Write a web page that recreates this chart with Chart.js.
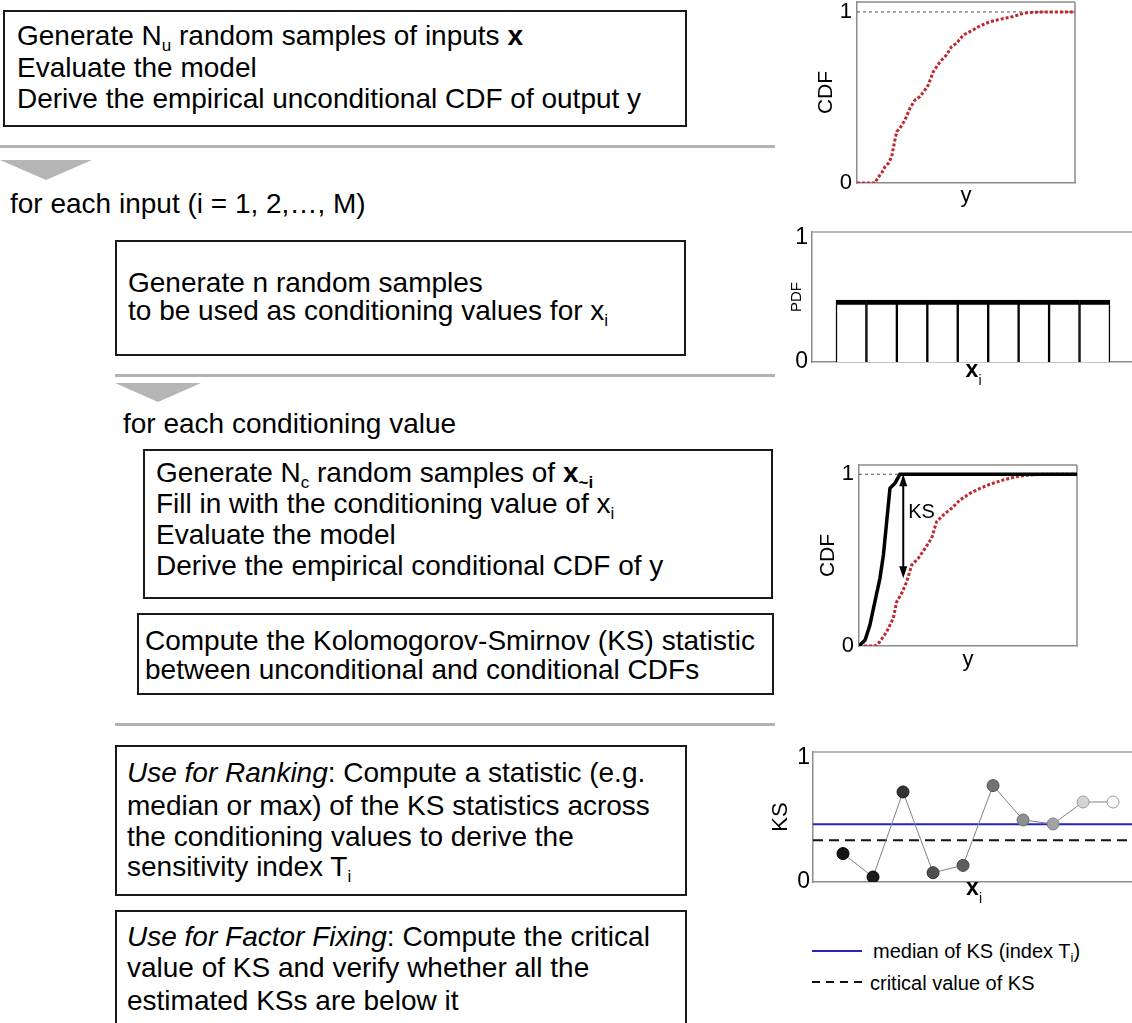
<!DOCTYPE html>
<html><head><meta charset="utf-8">
<title>PAWN workflow</title>
<script src="https://cdn.jsdelivr.net/npm/chart.js@4.4.1/dist/chart.umd.min.js"></script>
<style>
html,body{margin:0;padding:0;background:#fff}
body{width:1132px;height:1023px;position:relative;overflow:hidden;font-family:"Liberation Sans",Arial,Helvetica,sans-serif;color:#000}
.box{position:absolute;border:2px solid #1a1a1a;box-sizing:border-box}
.t{position:absolute;white-space:nowrap;font-size:28px;line-height:32px}
.t sub{font-size:17px;vertical-align:-6px;line-height:0}
.rule{position:absolute;height:3px;background:#b3b3b3}
.tri{position:absolute;width:0;height:0;border-style:solid;border-color:#b5b5b5 transparent transparent transparent}
.cv{position:absolute}
.lg{position:absolute;font-size:20px;line-height:24px;white-space:nowrap}
.lg sub{font-size:13px;vertical-align:-4px;line-height:0}
</style></head>
<body>
<!-- step 1 -->
<div class="box" style="left:3px;top:10px;width:684px;height:117px"></div>
<div class="t" style="left:17px;top:20px">Generate N<sub>u</sub> random samples of inputs <b>x</b></div>
<div class="t" style="left:17px;top:52px">Evaluate the model</div>
<div class="t" style="left:17px;top:83px">Derive the empirical unconditional CDF of output y</div>
<div class="rule" style="left:0;top:145px;width:775px"></div>
<div class="tri" style="left:0;top:160px;border-width:20px 46px 0 46px"></div>
<div class="t" style="left:10px;top:188px">for each input (i = 1, 2,…, M)</div>
<!-- step 2 -->
<div class="box" style="left:115px;top:240px;width:571px;height:116px"></div>
<div class="t" style="left:128px;top:267px">Generate n random samples</div>
<div class="t" style="left:128px;top:295px">to be used as conditioning values for x<sub>i</sub></div>
<div class="rule" style="left:115px;top:374px;width:660px"></div>
<div class="tri" style="left:115px;top:383px;border-width:19px 43px 0 43px"></div>
<div class="t" style="left:123px;top:408px">for each conditioning value</div>
<!-- step 3 -->
<div class="box" style="left:143px;top:449px;width:630px;height:150px"></div>
<div class="t" style="left:156px;top:457px">Generate N<sub>c</sub> random samples of <b>x</b><sub><b>~i</b></sub></div>
<div class="t" style="left:156px;top:488px">Fill in with the conditioning value of x<sub>i</sub></div>
<div class="t" style="left:156px;top:519px">Evaluate the model</div>
<div class="t" style="left:156px;top:550px">Derive the empirical conditional CDF of y</div>
<div class="box" style="left:137px;top:613px;width:637px;height:82px"></div>
<div class="t" style="left:145px;top:625px">Compute the Kolomogorov-Smirnov (KS) statistic</div>
<div class="t" style="left:145px;top:654px">between unconditional and conditional CDFs</div>
<div class="rule" style="left:115px;top:723px;width:660px"></div>
<!-- step 4 -->
<div class="box" style="left:115px;top:745px;width:572px;height:151px"></div>
<div class="t" style="left:127px;top:757px"><i>Use for Ranking</i>: Compute a statistic (e.g.</div>
<div class="t" style="left:127px;top:790px">median or max) of the KS statistics across</div>
<div class="t" style="left:127px;top:821px">the conditioning values to derive the</div>
<div class="t" style="left:127px;top:851px">sensitivity index T<sub>i</sub></div>
<div class="box" style="left:115px;top:910px;width:572px;height:140px"></div>
<div class="t" style="left:127px;top:921px"><i>Use for Factor Fixing</i>: Compute the critical</div>
<div class="t" style="left:127px;top:952px">value of KS and verify whether all the</div>
<div class="t" style="left:127px;top:985px">estimated KSs are below it</div>

<!-- charts -->
<canvas id="c1" class="cv" width="290" height="210" style="left:800px;top:0px"></canvas>
<canvas id="c2" class="cv" width="352" height="178" style="left:780px;top:222px"></canvas>
<canvas id="c3" class="cv" width="292" height="220" style="left:800px;top:455px"></canvas>
<canvas id="c4" class="cv" width="372" height="170" style="left:760px;top:741px"></canvas>

<!-- legend of panel 4 -->
<div style="position:absolute;left:812px;top:950px;width:50px;height:2px;background:#2525c0"></div>
<div class="lg" style="left:873px;top:939px">median of KS (index T<sub>i</sub>)</div>
<div style="position:absolute;left:812px;top:981px;width:50px;height:2px;background:repeating-linear-gradient(to right,#111 0 8px,transparent 8px 14px)"></div>
<div class="lg" style="left:870px;top:971px">critical value of KS</div>

<script>
const FONT = '"Liberation Sans", Arial, Helvetica, sans-serif';
const yTicks01 = [0, 1];

// ---- Panel 1: unconditional CDF of y ----
const uncondY   = [0, 0.083, 0.093, 0.113, 0.128, 0.144, 0.159, 0.174, 0.182, 0.197, 0.220, 0.243, 0.266, 0.289, 0.312, 0.327, 0.350, 0.381, 0.411, 0.434, 0.457, 0.488, 0.518, 0.564, 0.610, 0.656, 0.717, 0.763, 0.809, 0.870, 1.0];
const uncondCdf = [0, 0.000, 0.027, 0.057, 0.095, 0.115, 0.154, 0.251, 0.300, 0.320, 0.368, 0.437, 0.485, 0.505, 0.544, 0.573, 0.651, 0.709, 0.749, 0.797, 0.817, 0.865, 0.885, 0.918, 0.943, 0.957, 0.973, 0.992, 0.998, 1.0, 1.0];

// ---- Panel 2: PDF of x_i (uniform) ----
const pdfBinCentres = [0.5, 1.5, 2.5, 3.5, 4.5, 5.5, 6.5, 7.5, 8.5];
const pdfHeights    = [0.5, 0.5, 0.5, 0.5, 0.5, 0.5, 0.5, 0.5, 0.5];

// ---- Panel 3: conditional vs unconditional CDF ----
const condY     = [0, 0.028, 0.050, 0.073, 0.096, 0.112, 0.127, 0.142, 0.165, 0.188, 1.0];
const condCdf   = [0, 0.035, 0.122, 0.258, 0.394, 0.530, 0.724, 0.918, 0.948, 1.0, 1.0];
const uncondY3   = [0, 0.073, 0.096, 0.127, 0.157, 0.173, 0.196, 0.219, 0.242, 0.272, 0.303, 0.333, 0.356, 0.387, 0.425, 0.463, 0.509, 0.555, 0.601, 0.662, 0.723, 0.784, 0.845, 1.0];
const uncondCdf3 = [0, 0.000, 0.025, 0.083, 0.161, 0.258, 0.307, 0.375, 0.472, 0.511, 0.569, 0.627, 0.724, 0.763, 0.802, 0.850, 0.889, 0.918, 0.942, 0.967, 0.986, 0.996, 1.0, 1.0];
const ksArrowAt = 0.203, ksArrowTop = 1.0, ksArrowBottom = 0.394, ksLabelLevel = 0.778;

// ---- Panel 4: KS across conditioning values ----
const ksIndex  = [1, 2, 3, 4, 5, 6, 7, 8, 9, 10];
const ksValues = [0.229, 0.040, 0.726, 0.075, 0.134, 0.777, 0.500, 0.468, 0.645, 0.645];
const ksMedian = 0.466;
const ksCritical = 0.336;
const ksPointFill   = ['#141414', '#1c1c1c', '#333333', '#4f4f4f', '#5e5e5e', '#727272', '#8f8f8f', '#a3a3a3', '#d4d4d4', '#f7f7f7'];
const ksPointBorder = ['#000000', '#000000', '#1a1a1a', '#333333', '#444444', '#555555', '#6e6e6e', '#7d7d7d', '#999999', '#9a9a9a'];

const pts = (xs, ys) => xs.map((x, i) => ({x, y: ys[i]}));

function yAxis(max, width, title, titleSize, titlePad, tickPad, tickSize) {
  return {
    type: 'linear', min: 0, max,
    afterBuildTicks: s => { s.ticks = yTicks01.map(v => ({value: v})); },
    afterFit: s => { s.width = width; s.paddingTop = 0; s.paddingBottom = 0; },
    grid: {display: false, drawTicks: false},
    border: {display: true, color: '#8c8c8c', width: 1.5},
    ticks: {padding: tickPad, color: '#000', font: {family: FONT, size: tickSize}},
    title: {display: true, text: title, color: '#000', font: {family: FONT, size: titleSize}, padding: {top: titlePad, bottom: 0}}
  };
}
function xAxis(min, max, height, title, titlePadBottom) {
  return {
    type: 'linear', min, max, offset: false,
    afterFit: s => { s.height = height; s.paddingLeft = 0; s.paddingRight = 0; },
    grid: {display: false, drawTicks: false, offset: false},
    border: {display: true, color: '#8c8c8c', width: 1.5},
    ticks: {display: false},
    title: title ? {display: true, text: title, color: '#000', font: {family: FONT, size: 22}, padding: {top: 0, bottom: titlePadBottom}} : {display: false}
  };
}
function framePlugin(sides, color) {
  return {
    id: 'frame',
    beforeDatasetsDraw(chart) {
      const {ctx, chartArea: a} = chart;
      ctx.save(); ctx.strokeStyle = color; ctx.lineWidth = 1.5;
      ctx.beginPath();
      if (sides.includes('top')) { ctx.moveTo(a.left, a.top); ctx.lineTo(a.right, a.top); }
      if (sides.includes('right')) { ctx.moveTo(a.right, a.top); ctx.lineTo(a.right, a.bottom); }
      ctx.stroke(); ctx.restore();
    }
  };
}
function subLabelPlugin(main, sub, dy) {
  return {
    id: 'subLabel',
    afterDraw(chart) {
      const {ctx, chartArea: a} = chart;
      const cx = (a.left + a.right) / 2;
      ctx.save(); ctx.fillStyle = '#000'; ctx.textBaseline = 'middle'; ctx.textAlign = 'center';
      ctx.font = 'bold 23px ' + FONT; ctx.fillText(main, cx, a.bottom + dy);
      ctx.font = '14px ' + FONT; ctx.fillText(sub, cx + 8, a.bottom + dy + 10);
      ctx.restore();
    }
  };
}
const base = {responsive: false, animation: false, devicePixelRatio: 1, events: [],
  plugins: {legend: {display: false}, tooltip: {enabled: false}}};

// Panel 1
new Chart(document.getElementById('c1'), {
  type: 'line',
  data: {datasets: [
    {data: pts(uncondY, uncondCdf), borderColor: '#c1272d', borderWidth: 3, borderDash: [3, 2], pointRadius: 0, tension: 0, order: 0},
    {data: pts([0, 1], [1, 1]), borderColor: '#555', borderWidth: 1, borderDash: [3, 3], pointRadius: 0, order: 1}
  ]},
  options: {...base,
    layout: {autoPadding: false, padding: {top: 2, right: 15, bottom: 0, left: 0}},
    scales: {x: xAxis(0, 1, 27, 'y', 1), y: yAxis(1.058, 57, 'CDF', 21, 14, 5, 22)}},
  plugins: [framePlugin(['top', 'right'], '#8c8c8c')]
});

// Panel 2
new Chart(document.getElementById('c2'), {
  type: 'bar',
  data: {datasets: [
    {data: pts(pdfBinCentres, pdfHeights), backgroundColor: '#fff', borderColor: '#000',
     borderWidth: {top: 5, left: 1.5, right: 1.5, bottom: 0}, borderSkipped: false,
     barPercentage: 1, categoryPercentage: 1}
  ]},
  options: {...base,
    layout: {autoPadding: false, padding: {top: 10, right: 0, bottom: 0, left: 0}},
    scales: {x: xAxis(-0.788, 9.724, 38, null, 0), y: yAxis(1.048, 32, 'PDF', 15, 8, 4, 23)}},
  plugins: [framePlugin(['top'], '#a0a0a0'), subLabelPlugin('x', 'i', 9)]
});

// Panel 3
new Chart(document.getElementById('c3'), {
  type: 'line',
  data: {datasets: [
    {data: pts(condY, condCdf), borderColor: '#000', borderWidth: 3.5, pointRadius: 0, tension: 0, order: 0},
    {data: pts(uncondY3, uncondCdf3), borderColor: '#c1272d', borderWidth: 3, borderDash: [3, 2], pointRadius: 0, tension: 0, order: 1},
    {data: pts([0, 1], [1, 1]), borderColor: '#555', borderWidth: 1, borderDash: [3, 3], pointRadius: 0, order: 2}
  ]},
  options: {...base,
    layout: {autoPadding: false, padding: {top: 10, right: 15, bottom: 0, left: 0}},
    scales: {x: xAxis(0, 1, 29, 'y', 2), y: yAxis(1.054, 59, 'CDF', 21, 16, 5, 22)}},
  plugins: [framePlugin(['top', 'right'], '#8c8c8c'), {
    id: 'ksArrow',
    afterDatasetsDraw(chart) {
      const {ctx, scales: {x, y}} = chart;
      const px = x.getPixelForValue(ksArrowAt);
      const y1 = y.getPixelForValue(ksArrowTop), y2 = y.getPixelForValue(ksArrowBottom);
      ctx.save(); ctx.strokeStyle = '#000'; ctx.fillStyle = '#000'; ctx.lineWidth = 2;
      ctx.beginPath(); ctx.moveTo(px, y1 + 6); ctx.lineTo(px, y2 - 6); ctx.stroke();
      ctx.beginPath(); ctx.moveTo(px, y1); ctx.lineTo(px - 4, y1 + 12); ctx.lineTo(px + 4, y1 + 12); ctx.closePath(); ctx.fill();
      ctx.beginPath(); ctx.moveTo(px, y2); ctx.lineTo(px - 4, y2 - 12); ctx.lineTo(px + 4, y2 - 12); ctx.closePath(); ctx.fill();
      ctx.font = '20px ' + FONT; ctx.textBaseline = 'middle'; ctx.textAlign = 'left';
      ctx.fillText('KS', px + 5, y.getPixelForValue(ksLabelLevel));
      ctx.restore();
    }
  }]
});

// Panel 4
new Chart(document.getElementById('c4'), {
  type: 'line',
  data: {datasets: [
    {data: pts(ksIndex, ksValues), borderColor: '#808080', borderWidth: 1, tension: 0,
     pointRadius: 6, pointBackgroundColor: ksPointFill, pointBorderColor: ksPointBorder, pointBorderWidth: 1, order: 0},
    {data: pts([0, 10.63], [ksMedian, ksMedian]), borderColor: '#2525c0', borderWidth: 2, pointRadius: 0, order: 1},
    {data: pts([0, 10.63], [ksCritical, ksCritical]), borderColor: '#111', borderWidth: 2, borderDash: [10, 6], pointRadius: 0, order: 2}
  ]},
  options: {...base,
    layout: {autoPadding: false, padding: {top: 11, right: 0, bottom: 0, left: 0}},
    scales: {x: xAxis(0, 10.63, 29, null, 0), y: yAxis(1.048, 53, 'KS', 22, 8, 3, 23)}},
  plugins: [framePlugin(['top'], '#a0a0a0'), subLabelPlugin('x', 'i', 7)]
});
</script>
</body></html>
